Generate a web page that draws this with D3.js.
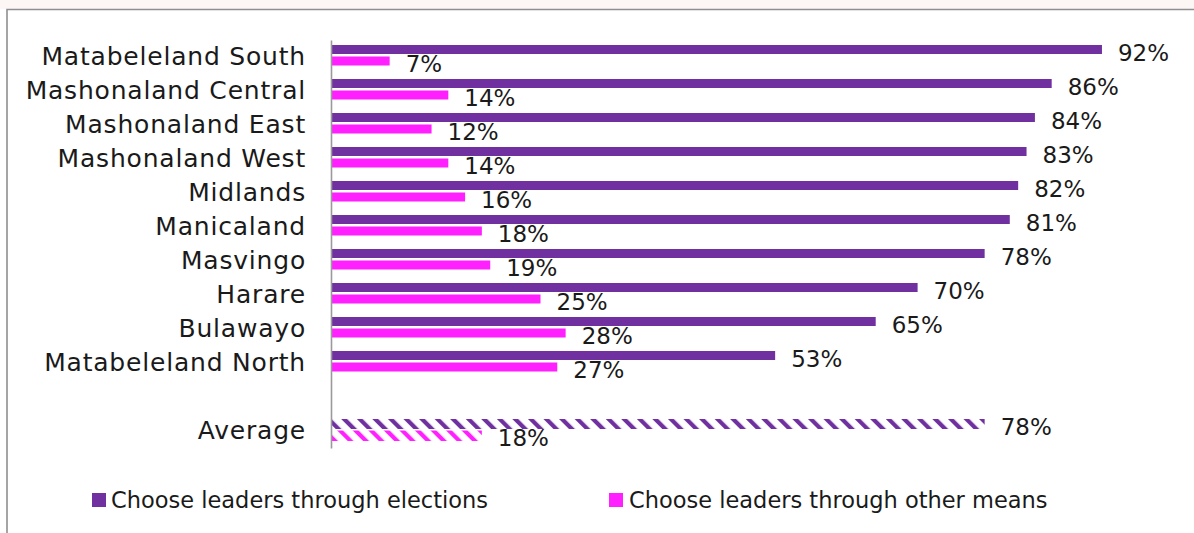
<!DOCTYPE html>
<html>
<head>
<meta charset="utf-8">
<script src="https://cdn.jsdelivr.net/npm/d3@7"></script>
<style>
  html, body { margin: 0; padding: 0; background: #ffffff; }
  svg { display: block; }
  text { font-family: "DejaVu Sans", sans-serif; fill: #1a1a1a; }
</style>
</head>
<body>
<svg id="chart" width="1194" height="533"></svg>
<script>
// Provinces, in display order
const provinces = [
  "Matabeleland South", "Mashonaland Central", "Mashonaland East",
  "Mashonaland West", "Midlands", "Manicaland", "Masvingo",
  "Harare", "Bulawayo", "Matabeleland North"
];
// Share choosing leaders through elections (%)
const elections = [92, 86, 84, 83, 82, 81, 78, 70, 65, 53];
// Share choosing leaders through other means (%)
const otherMeans = [7, 14, 12, 14, 16, 18, 19, 25, 28, 27];
// National average row
const averageLabel = "Average";
const averageElections = 78;
const averageOther = 18;
// Legend entries
const seriesNames = ["Choose leaders through elections", "Choose leaders through other means"];

const PURPLE = "#7030a0";
const PINK = "#ff1fff";

const svg = d3.select("#chart");

// faint band above the frame and the frame itself
svg.append("rect").attr("x", 0).attr("y", 0).attr("width", 1194).attr("height", 9)
  .attr("fill", "#fcf6f4");
svg.append("path")
  .attr("d", "M7,540 L7,9.5 L1194,9.5")
  .attr("fill", "none").attr("stroke", "#8f8f8f").attr("stroke-width", 1.6);

const rows = provinces.map((p, i) => ({ name: p, a: elections[i], b: otherMeans[i], avg: false }));
rows.push({ name: "__gap", a: null, b: null, avg: false });
rows.push({ name: averageLabel, a: averageElections, b: averageOther, avg: true });

const x = d3.scaleLinear().domain([0, 100]).range([331, 1169]);
const y = d3.scaleBand().domain(rows.map(r => r.name)).range([40, 448]).padding(0);

// hatch patterns for the average row
const defs = svg.append("defs");
function hatch(id, color) {
  const p = defs.append("pattern")
    .attr("id", id)
    .attr("patternUnits", "userSpaceOnUse")
    .attr("width", 11).attr("height", 11)
    .attr("patternTransform", "rotate(-45)");
  p.append("rect").attr("x", 0).attr("y", 0).attr("width", 4.2).attr("height", 11)
    .attr("fill", color);
}
hatch("hatchPurple", PURPLE);
hatch("hatchPink", PINK);

const barA = { off: 5, h: 9 };
const barB = { off: 16.5, h: 9 };

const g = svg.append("g");
const data = rows.filter(r => r.a !== null);

g.selectAll("rect.a").data(data).join("rect")
  .attr("class", "a")
  .attr("x", x(0))
  .attr("y", d => y(d.name) + barA.off)
  .attr("width", d => x(d.a) - x(0))
  .attr("height", d => d.avg ? barA.h + 1 : barA.h)
  .attr("fill", d => d.avg ? "url(#hatchPurple)" : PURPLE);

g.selectAll("rect.b").data(data).join("rect")
  .attr("class", "b")
  .attr("x", x(0))
  .attr("y", d => y(d.name) + barB.off)
  .attr("width", d => x(d.b) - x(0))
  .attr("height", d => d.avg ? barB.h + 1.5 : barB.h)
  .attr("fill", d => d.avg ? "url(#hatchPink)" : PINK);

// value labels
const fmt = v => v + "%";
g.selectAll("text.la").data(data).join("text")
  .attr("class", "la")
  .attr("x", d => x(d.a) + 16)
  .attr("y", d => y(d.name) + barA.off + barA.h / 2 + 3)
  .attr("dy", "0.35em")
  .attr("font-size", 23)
  .text(d => fmt(d.a));

g.selectAll("text.lb").data(data).join("text")
  .attr("class", "lb")
  .attr("x", d => x(d.b) + 16)
  .attr("y", d => y(d.name) + barB.off + barB.h / 2 + 3)
  .attr("dy", "0.35em")
  .attr("font-size", 23)
  .text(d => fmt(d.b));

// category axis
const axis = d3.axisLeft(y).tickSize(0).tickPadding(25)
  .tickFormat(d => d === "__gap" ? "" : d);
const ax = svg.append("g").attr("transform", `translate(${x(0)},0)`).call(axis);
ax.select(".domain").attr("stroke", "#9a9a9a").attr("stroke-width", 1.6);
ax.selectAll("text")
  .attr("font-size", 25)
  .attr("letter-spacing", 0.8)
  .attr("font-family", "DejaVu Sans, sans-serif")
  .attr("fill", "#1a1a1a");

// legend
const legendPos = [{ sx: 92, tx: 111 }, { sx: 609, tx: 629 }];
const colors = [PURPLE, PINK];
const lg = svg.append("g");
seriesNames.forEach((s, i) => {
  lg.append("rect").attr("x", legendPos[i].sx).attr("y", 493)
    .attr("width", 14).attr("height", 14).attr("fill", colors[i]);
  lg.append("text").attr("x", legendPos[i].tx).attr("y", 508)
    .attr("font-size", 22.5).text(s);
});
</script>
</body>
</html>
